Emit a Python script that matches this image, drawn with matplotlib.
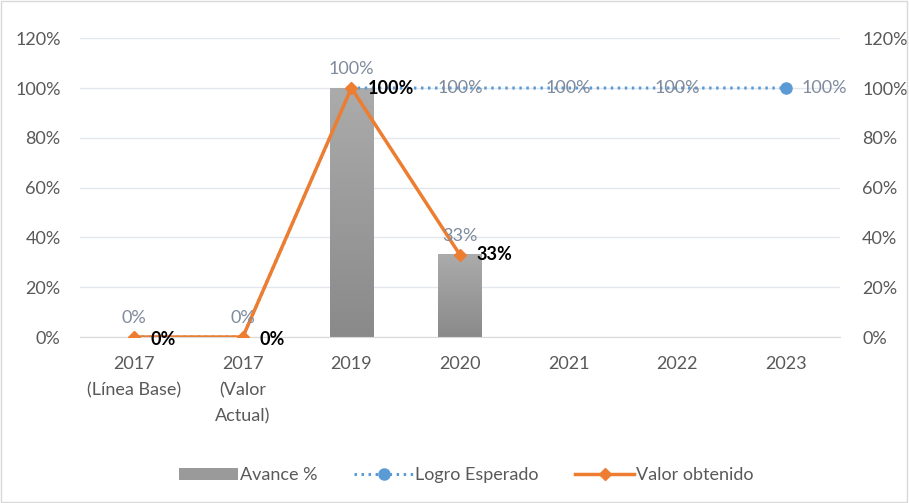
import matplotlib
matplotlib.use("Agg")
import matplotlib.pyplot as plt
import numpy as np
from matplotlib.lines import Line2D
from matplotlib.patches import Patch

categories = ["2017\n(Línea Base)", "2017\n(Valor\nActual)", "2019", "2020", "2021", "2022", "2023"]
avance = [0, 0, 100, 33]
logro = [0, 0, 100, 100, 100, 100, 100]
valor = [0, 0, 100, 33]
yticks = [0, 20, 40, 60, 80, 100, 120]

plt.rcParams['font.family'] = ['Lato', 'DejaVu Sans']
txt = '#595959'
fs = 13
fig = plt.figure(figsize=(9.09, 5.03), dpi=100)
fig.patches.append(plt.Rectangle((0.001, 0.001), 0.997, 0.997, transform=fig.transFigure,
                                 fill=False, edgecolor='#d9d9d9', lw=1))
ax = fig.add_axes([0.088, 0.33, 0.836, 0.594])
x = np.arange(len(categories))

# bars with gradient
bw = 0.4
cmap = matplotlib.colors.LinearSegmentedColormap.from_list('g', ['#8a8a8a', '#ababab'])
for xi, v in zip(x[:len(avance)], avance):
    if v > 0:
        grad = np.linspace(0, 1, 100).reshape(-1, 1)
        ax.imshow(grad, extent=[xi - bw/2, xi + bw/2, 0, v], origin='lower',
                  cmap=cmap, aspect='auto', zorder=2)
for xi, v in zip(x[:len(avance)], avance):
    ax.text(xi, v + 4.5, f"{v}%", ha='center', va='bottom', color='#7f8a9c', fontsize=fs, zorder=6)

# logro esperado
dots = (0, (0.8, 1.5))
ax.plot(x, logro, color='#5b9bd5', lw=2.2, ls=dots, zorder=3)
ax.plot(x[-1], logro[-1], 'o', color='#5b9bd5', ms=8, zorder=4)
for xi, v in zip(x[3:6], logro[3:6]):
    ax.text(xi, v, f"{v}%", ha='center', va='center', color='#7f8a9c', fontsize=fs, zorder=6)
ax.text(x[-1] + 0.15, logro[-1], f"{logro[-1]}%", ha='left', va='center', color='#7f8a9c', fontsize=fs, zorder=6)

# valor obtenido
ax.plot(x[:len(valor)], valor, color='#ed7d31', lw=2.5, marker='D', ms=6, zorder=5)
for xi, v in zip(x[:len(valor)], valor):
    ax.text(xi + 0.15, v - (1 if v == 0 else 0), f"{v}%", ha='left', va='center',
            color='black', fontsize=fs, fontweight='bold', zorder=7)

ax.set_xlim(-0.5, len(categories) - 0.5)
ax.set_ylim(0, 120)
ax.set_yticks(yticks)
ax.set_yticklabels([f"{t}%" for t in yticks])
ax.set_xticks(x)
ax.set_xticklabels(categories, linespacing=1.75)
ax.grid(axis='y', color='#e3e6ec', lw=1)
ax.set_axisbelow(True)
for s in ax.spines.values():
    s.set_visible(False)
ax.spines['bottom'].set_visible(True)
ax.spines['bottom'].set_color('#d9d9d9')
ax.tick_params(length=0, colors=txt, labelsize=fs)
ax.tick_params(axis='x', pad=14)
ax.tick_params(axis='y', pad=14)
for lab in ax.get_xticklabels() + ax.get_yticklabels():
    lab.set_color(txt)

ax2 = ax.twinx()
ax2.set_ylim(0, 120)
ax2.set_yticks(yticks)
ax2.set_yticklabels([f"{t}%" for t in yticks])
for s in ax2.spines.values():
    s.set_visible(False)
ax2.tick_params(length=0, colors=txt, labelsize=fs, pad=16)

handles = [Patch(facecolor='#9a9a9a'),
           Line2D([], [], color='#5b9bd5', lw=2.2, ls=dots, marker='o', ms=8, markevery=[1]),
           Line2D([], [], color='#ed7d31', lw=2.5, marker='D', ms=6, markevery=[1])]
fig.legend(handles, ['Avance %', 'Logro Esperado', 'Valor obtenido'], loc='center',
           bbox_to_anchor=(0.513, 0.055), ncol=3, frameon=False, fontsize=fs,
           handlelength=3.3, handletextpad=0.1, columnspacing=2.0, labelcolor=txt)

fig.savefig('out.png', dpi=100)
